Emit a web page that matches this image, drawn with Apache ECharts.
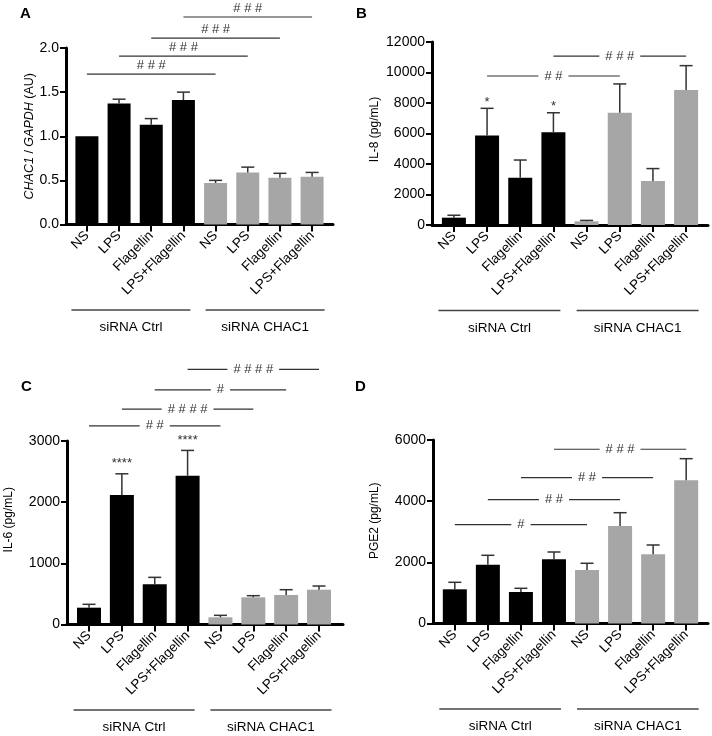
<!DOCTYPE html>
<html><head><meta charset="utf-8">
<script src="https://cdn.jsdelivr.net/npm/echarts@6/dist/echarts.min.js"></script>
<style>html,body{margin:0;padding:0;background:#fff}#c{width:712px;height:736px}</style>
</head><body><div id="c"></div>
<script>
// ---- data ----
const treatments = ['NS','LPS','Flagellin','LPS+Flagellin','NS','LPS','Flagellin','LPS+Flagellin'];
const groupLabels = ['siRNA Ctrl','siRNA CHAC1'];
const groupSpans = [[0,3],[4,7]];
const catIndex = [0,1,2,3,4,5,6,7];
const isKnockdown = [0,0,0,0,1,1,1,1];

const chac1Mean = [1.00,1.37,1.13,1.41,0.47,0.59,0.53,0.54];
const chac1Err  = [0.00,0.05,0.07,0.09,0.03,0.06,0.05,0.05];
const chac1Sig  = [[0,4,1.705,'###'],[1,5,1.909,'###'],[2,6,2.113,'###'],[3,7,2.351,'###']];

const il8Mean = [480,5870,3100,6080,240,7360,2890,8850];
const il8Err  = [160,1780,1160,1280,60,1890,810,1600];
const il8Sig  = [[1,5,9770,'##'],[3,7,11080,'###']];
const il8Stars = [[1,'*'],[3,'*']];

const il6Mean = [275,2116,657,2431,118,444,482,569];
const il6Err  = [55,348,114,415,32,27,87,60];
const il6Sig  = [[0,4,3248,'##'],[1,5,3521,'####'],[2,6,3837,'#'],[3,7,4170,'####']];
const il6Stars = [[1,'****'],[3,'****']];

const pge2Mean = [1118,1923,1030,2100,1750,3188,2263,4683];
const pge2Err  = [229,307,121,238,219,435,304,706];
const pge2Sig  = [[0,4,3231,'#'],[1,5,4048,'##'],[2,6,4768,'##'],[3,7,5697,'###']];

// ---- styling / layout ----
const FONT = '"Liberation Sans", Arial, Helvetica, sans-serif';
const BLACK = '#000000', GRAY = '#a6a6a6', LINE = '#333333';

const panels = [
  {letter:'A', lpos:[26,15], grid:{left:66,top:48,width:267,height:176.5}, xr:[-0.65,7.65], yMax:2, yInt:0.5,
   fmt:v=>v.toFixed(1), name:'{i|CHAC1} / {i|GAPDH} (AU)', nameGap:30, nameSize:12.5, namePad:[0,0,0,0], barW:23,
   mean:chac1Mean, err:chac1Err, sig:chac1Sig, sigMode:'above', stars:[], starOff:0},
  {letter:'B', lpos:[362,15], grid:{left:432,top:42,width:276,height:183}, xr:[-0.66,7.66], yMax:12000, yInt:2000,
   fmt:v=>String(v), name:'IL-8 (pg/mL)', nameGap:51, nameSize:12, namePad:[0,0,0,8], barW:24,
   mean:il8Mean, err:il8Err, sig:il8Sig, sigMode:'gap', stars:il8Stars, starOff:6},
  {letter:'C', lpos:[27,388], grid:{left:67,top:441,width:276,height:183.5}, xr:[-0.67,7.73], yMax:3000, yInt:1000,
   fmt:v=>String(v), name:'IL-6 (pg/mL)', nameGap:52, nameSize:12, namePad:[0,0,0,26], barW:24,
   mean:il6Mean, err:il6Err, sig:il6Sig, sigMode:'gap', stars:il6Stars, starOff:10},
  {letter:'D', lpos:[361,388], grid:{left:433,top:440,width:275,height:183.5}, xr:[-0.66,7.66], yMax:6000, yInt:2000,
   fmt:v=>String(v), name:'PGE2 (pg/mL)', nameGap:52, nameSize:12, namePad:[0,0,0,22], barW:24,
   mean:pge2Mean, err:pge2Err, sig:pge2Sig, sigMode:'gap', stars:[], starOff:0}
];

const grids = [], xAxes = [], yAxes = [], series = [], graphics = [];

function hashText(s){ return s.split('').join(' '); }
function hashWidth(s){ const n = s.length; return (n*0.556 + (n-1)*0.278)*13; }

panels.forEach((p, gi) => {
  grids.push(Object.assign({containLabel:false}, p.grid));
  xAxes.push({
    type:'value', gridIndex:gi, min:p.xr[0], max:p.xr[1],
    axisLine:{show:true, onZero:false, lineStyle:{color:BLACK, width:3}},
    axisTick:{show:true, customValues:catIndex, length:7, lineStyle:{color:BLACK, width:2}},
    axisLabel:{show:true, customValues:catIndex, rotate:45, margin:9, fontSize:13.5, fontFamily:FONT, color:BLACK,
               formatter:v=>treatments[Math.round(v)]},
    splitLine:{show:false}
  });
  yAxes.push({
    type:'value', gridIndex:gi, min:0, max:p.yMax, interval:p.yInt,
    axisLine:{show:true, onZero:false, lineStyle:{color:BLACK, width:3}},
    axisTick:{show:true, length:6, lineStyle:{color:BLACK, width:2}},
    axisLabel:{fontSize:14, fontFamily:FONT, color:BLACK, margin:7, formatter:p.fmt},
    splitLine:{show:false},
    name:p.name, nameLocation:'middle', nameGap:p.nameGap, nameRotate:90,
    nameTextStyle:{fontSize:p.nameSize, fontFamily:FONT, color:BLACK, padding:p.namePad,
                   rich:{i:{fontStyle:'italic', fontSize:p.nameSize, fontFamily:FONT, color:BLACK}}}
  });
  // bars
  series.push({
    type:'bar', xAxisIndex:gi, yAxisIndex:gi, barWidth:p.barW, z:2,
    data:p.mean.map((v,i)=>({value:[catIndex[i], v], itemStyle:{color:isKnockdown[i]?GRAY:BLACK}}))
  });
  // error bars (upper only)
  series.push({
    type:'custom', xAxisIndex:gi, yAxisIndex:gi, z:3, clip:false,
    data:p.mean.map((v,i)=>[catIndex[i], v, p.err[i]]),
    renderItem:(params, api)=>{
      const x = api.value(0), top = api.value(1), e = api.value(2);
      if (!e) return null;
      const a = api.coord([x, top]), b = api.coord([x, top+e]);
      return {type:'group', children:[
        {type:'line', shape:{x1:a[0],y1:a[1],x2:b[0],y2:b[1]}, style:{stroke:LINE, lineWidth:1.5}},
        {type:'line', shape:{x1:b[0]-6.5,y1:b[1],x2:b[0]+6.5,y2:b[1]}, style:{stroke:LINE, lineWidth:1.5}}
      ]};
    }
  });
  // significance brackets
  series.push({
    type:'custom', xAxisIndex:gi, yAxisIndex:gi, z:4, clip:false,
    data:p.sig.map(s=>[s[0], s[2]]),
    renderItem:(params, api)=>{
      const s = p.sig[params.dataIndex];
      const a = api.coord([s[0], s[2]]), b = api.coord([s[1], s[2]]);
      const t = hashText(s[3]);
      const mid = (a[0]+b[0])/2;
      const ls = {stroke:LINE, lineWidth:1.2};
      if (p.sigMode === 'above') {
        return {type:'group', children:[
          {type:'line', shape:{x1:a[0],y1:a[1],x2:b[0],y2:b[1]}, style:ls},
          {type:'text', x:mid, y:a[1]-2.5, style:{text:t, font:'13px '+FONT, fill:LINE, align:'center', verticalAlign:'bottom', textAlign:'center', textVerticalAlign:'bottom'}}
        ]};
      }
      const hg = hashWidth(s[3])/2 + 6;
      return {type:'group', children:[
        {type:'line', shape:{x1:a[0],y1:a[1],x2:mid-hg,y2:a[1]}, style:ls},
        {type:'line', shape:{x1:mid+hg,y1:a[1],x2:b[0],y2:a[1]}, style:ls},
        {type:'text', x:mid, y:a[1], style:{text:t, font:'13px '+FONT, fill:LINE, align:'center', verticalAlign:'middle', textAlign:'center', textVerticalAlign:'middle'}}
      ]};
    }
  });
  // stars above error bars
  if (p.stars.length) {
    series.push({
      type:'custom', xAxisIndex:gi, yAxisIndex:gi, z:4, clip:false,
      data:p.stars.map(s=>[s[0], p.mean[s[0]] + p.err[s[0]]]),
      renderItem:(params, api)=>{
        const s = p.stars[params.dataIndex];
        const c = api.coord([api.value(0), api.value(1)]);
        return {type:'text', x:c[0], y:c[1]-p.starOff, style:{text:s[1], font:'13px '+FONT, fill:LINE, align:'center', verticalAlign:'middle', textAlign:'center', textVerticalAlign:'middle'}};
      }
    });
  }
  // group brackets below axis
  series.push({
    type:'custom', xAxisIndex:gi, yAxisIndex:gi, z:4, clip:false,
    data:groupSpans.map(g=>[g[0], 0]),
    renderItem:(params, api)=>{
      const g = groupSpans[params.dataIndex];
      const a = api.coord([g[0], 0]), b = api.coord([g[1], 0]);
      const x1 = a[0] - (params.dataIndex === 0 ? 15.5 : 10);
      const x2 = b[0] + (params.dataIndex === 0 ? 7 : 12.5);
      const y = a[1] + 85.5;
      return {type:'group', children:[
        {type:'line', shape:{x1:x1,y1:y,x2:x2,y2:y}, style:{stroke:'#444', lineWidth:1.3}},
        {type:'text', x:(x1+x2)/2, y:y+17.5, style:{text:groupLabels[params.dataIndex], font:'13.5px '+FONT, fill:BLACK, align:'center', verticalAlign:'middle', textAlign:'center', textVerticalAlign:'middle'}}
      ]};
    }
  });
  graphics.push({type:'text', left:p.lpos[0]-6, top:p.lpos[1]-9, style:{text:p.letter, font:'bold 15px '+FONT, fill:BLACK}});
});

const chart = echarts.init(document.getElementById('c'), null, {renderer:'canvas'});
chart.setOption({
  animation:false,
  backgroundColor:'#ffffff',
  textStyle:{fontFamily:FONT},
  grid:grids, xAxis:xAxes, yAxis:yAxes, series:series, graphic:graphics
});
</script>
</body></html>
